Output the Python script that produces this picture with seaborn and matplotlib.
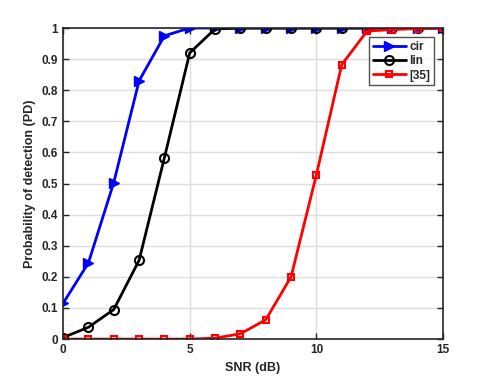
import numpy as np
import pandas as pd
import matplotlib
matplotlib.use("Agg")
import matplotlib.pyplot as plt
import seaborn as sns

snr = list(range(16))
cir = [0.115, 0.245, 0.503, 0.83, 0.975, 1.0, 1.0, 1.0, 1.0, 1.0, 1.0, 1.0, 1.0, 1.0, 1.0, 1.0]
lin = [0.005, 0.038, 0.095, 0.253, 0.583, 0.92, 0.997, 1.0, 1.0, 1.0, 1.0, 1.0, 1.0, 1.0, 1.0, 1.0]
ref35 = [0.0, 0.0, 0.0, 0.0, 0.0, 0.0, 0.003, 0.017, 0.062, 0.2, 0.528, 0.882, 0.99, 0.995, 0.998, 1.0]
series_names = ["cir", "lin", "[35]"]

sns.set_style("white")
plt.rcParams['font.family'] = ['Liberation Sans', 'DejaVu Sans']
plt.rcParams['font.weight'] = 'bold'

fig = plt.figure(figsize=(4.89, 3.81), dpi=100)
ax = fig.add_axes([0.129, 0.110, 0.777, 0.8165])

df = pd.DataFrame({"SNR": snr * 3,
                   "PD": cir + lin + ref35,
                   "series": [series_names[0]] * 16 + [series_names[1]] * 16 + [series_names[2]] * 16})

styles = {
    "cir": dict(color="#0000ff", marker=">", ms=7.5, mfc="#0000ff"),
    "lin": dict(color="black", marker="o", ms=6.5, mfc="none", mew=1.5),
    "[35]": dict(color="#ff0000", marker="s", ms=5, mfc="none", mew=1.5),
}
for name in series_names:
    st = styles[name]
    sns.lineplot(data=df[df.series == name], x="SNR", y="PD", ax=ax, label=name,
                 color=st["color"], lw=2, marker=st["marker"], markersize=st["ms"],
                 markerfacecolor=st["mfc"], markeredgecolor=st["color"],
                 markeredgewidth=st.get("mew", 1.0))

ax.set_xlim(0, 15)
ax.set_ylim(0, 1)
ax.set_xticks([0, 5, 10, 15])
ax.set_yticks(np.round(np.arange(0, 1.01, 0.1), 1))
ax.set_yticklabels(["0", "0.1", "0.2", "0.3", "0.4", "0.5", "0.6", "0.7", "0.8", "0.9", "1"])
ax.grid(True, color="#dddddd", lw=1)
ax.set_axisbelow(True)
for s in ax.spines.values():
    s.set_color("#262626")
    s.set_linewidth(1.2)
ax.tick_params(axis="both", direction="in", length=4, width=1, labelsize=8.5,
               colors="#262626", top=True, right=True, bottom=True, left=True,
               labeltop=False, labelright=False)
for lab in ax.get_xticklabels() + ax.get_yticklabels():
    lab.set_fontweight("bold")
ax.set_xlabel("SNR (dB)", fontsize=9, fontweight="bold", color="#262626")
ax.set_ylabel("Probability of detection (PD)", fontsize=9, fontweight="bold", color="#262626")

leg = ax.legend(loc="upper right", bbox_to_anchor=(0.975, 0.97), fontsize=8.5,
                frameon=True, fancybox=False, edgecolor="#262626", borderpad=0.3,
                handlelength=2.8, labelspacing=0.2, handletextpad=0.3, borderaxespad=0)
leg.get_frame().set_linewidth(1)
for t in leg.get_texts():
    t.set_fontweight("bold")

fig.savefig("out.png", dpi=100)
